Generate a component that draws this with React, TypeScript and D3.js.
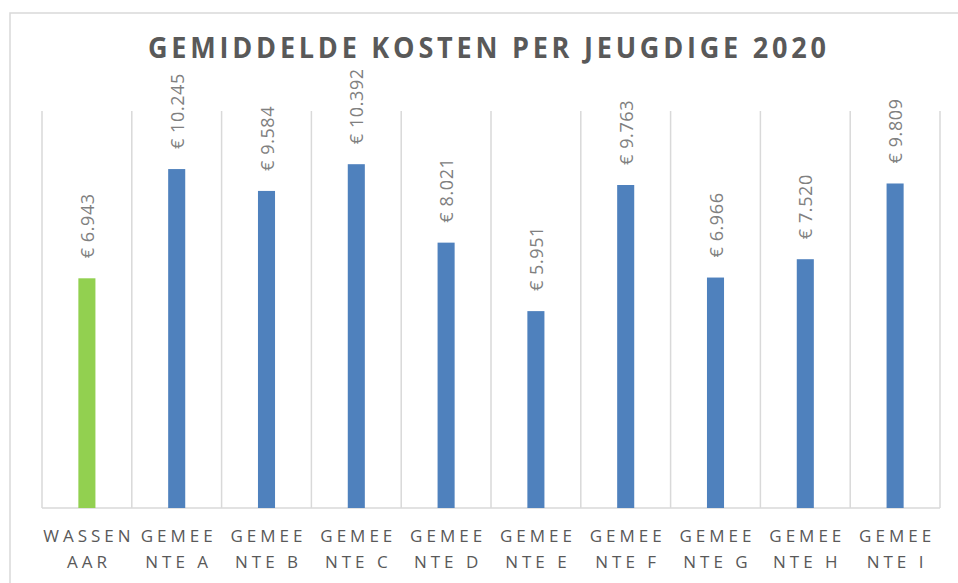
import * as d3 from 'd3';
import { useEffect, useRef } from 'react';

const categories = ['Wassenaar', 'Gemeente A', 'Gemeente B', 'Gemeente C', 'Gemeente D', 'Gemeente E', 'Gemeente F', 'Gemeente G', 'Gemeente H', 'Gemeente I'];
const labelLines = [
  ['WASSEN', 'AAR'],
  ['GEMEE', 'NTE A'],
  ['GEMEE', 'NTE B'],
  ['GEMEE', 'NTE C'],
  ['GEMEE', 'NTE D'],
  ['GEMEE', 'NTE E'],
  ['GEMEE', 'NTE F'],
  ['GEMEE', 'NTE G'],
  ['GEMEE', 'NTE H'],
  ['GEMEE', 'NTE I'],
];
const costs = [6943, 10245, 9584, 10392, 8021, 5951, 9763, 6966, 7520, 9809];
const valueLabels = ['€ 6.943', '€ 10.245', '€ 9.584', '€ 10.392', '€ 8.021', '€ 5.951', '€ 9.763', '€ 6.966', '€ 7.520', '€ 9.809'];
const title = 'GEMIDDELDE KOSTEN PER JEUGDIGE 2020';

const W = 958;
const H = 583;

const App = () => {
  const ref = useRef<SVGSVGElement>(null);

  useEffect(() => {
    const svg = d3.select(ref.current);
    svg.selectAll('*').remove();

    const left = 42, right = 940, top = 111, bottom = 508;

    const x = d3.scaleBand().domain(categories).range([left, right]).paddingInner(0).paddingOuter(0);
    const y = d3.scaleLinear().domain([0, 12000]).range([bottom, top]);
    const barW = x.bandwidth() * 0.19;

    // chart border (only top and left visible)
    svg.append('path')
      .attr('d', `M10,${H + 5} L10,13 L${W + 5},13`)
      .attr('fill', 'none')
      .attr('stroke', '#d9d9d9')
      .attr('stroke-width', 1.5);

    // title, slightly condensed like the original
    const sx = 0.95;
    svg.append('text')
      .attr('transform', `translate(487,58) scale(${sx},1)`)
      .attr('text-anchor', 'middle')
      .attr('font-family', 'Open Sans')
      .attr('font-weight', 'bold')
      .attr('font-size', 28.5)
      .attr('fill', '#595959')
      .attr('textLength', 678 / sx)
      .attr('lengthAdjust', 'spacing')
      .text(title);

    // vertical gridlines at band edges
    const edges = categories.map((c) => x(c) || 0).concat([right]);
    svg.selectAll('.grid')
      .data(edges)
      .enter()
      .append('line')
      .attr('x1', (d) => d)
      .attr('x2', (d) => d)
      .attr('y1', top)
      .attr('y2', bottom)
      .attr('stroke', '#d9d9d9')
      .attr('stroke-width', 1.5);

    svg.append('line')
      .attr('x1', left)
      .attr('x2', right)
      .attr('y1', bottom)
      .attr('y2', bottom)
      .attr('stroke', '#d9d9d9')
      .attr('stroke-width', 1.5);

    svg.selectAll('.bar')
      .data(costs)
      .enter()
      .append('rect')
      .attr('x', (d, i) => (x(categories[i]) || 0) + x.bandwidth() / 2 - barW / 2)
      .attr('y', (d) => y(d))
      .attr('width', barW)
      .attr('height', (d) => bottom - y(d))
      .attr('fill', (d, i) => (i === 0 ? '#92d050' : '#4f81bd'));

    svg.selectAll('.vlabel')
      .data(costs)
      .enter()
      .append('text')
      .attr('transform', (d, i) => `translate(${(x(categories[i]) || 0) + x.bandwidth() / 2 + 7},${y(d) - 20}) rotate(-90)`)
      .attr('font-family', 'Open Sans')
      .attr('font-size', 18)
      .attr('letter-spacing', 0.6)
      .attr('fill', '#808080')
      .text((d, i) => valueLabels[i]);

    const xl = svg.selectAll('.xlabel')
      .data(labelLines)
      .enter()
      .append('text')
      .attr('text-anchor', 'middle')
      .attr('font-family', 'Open Sans')
      .attr('font-size', 17)
      .attr('letter-spacing', 4)
      .attr('fill', '#595959');
    xl.each(function (lines, i) {
      const cx = (x(categories[i]) || 0) + x.bandwidth() / 2 + 2;
      d3.select(this).selectAll('tspan')
        .data(lines)
        .enter()
        .append('tspan')
        .attr('x', cx)
        .attr('y', (d, j) => 542 + j * 26)
        .text((d) => d);
    });
  }, []);

  return (
    <svg ref={ref} width={W} height={H} style={{ position: 'absolute', left: 0, top: 0, background: '#fff' }} />
  );
};

export default App;
